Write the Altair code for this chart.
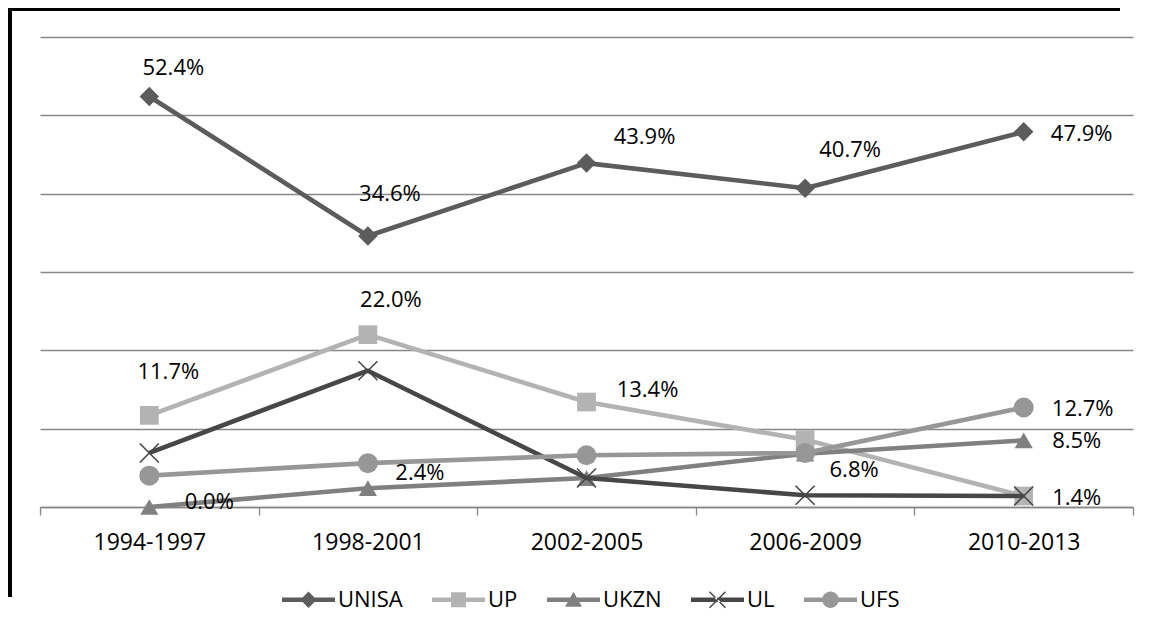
import altair as alt
import pandas as pd

# ---------------- data ----------------
periods = ["1994-1997", "1998-2001", "2002-2005", "2006-2009", "2010-2013"]
series_names = ["UNISA", "UP", "UKZN", "UL", "UFS"]
unisa = [52.4, 34.6, 43.9, 40.7, 47.9]
up = [11.7, 22.0, 13.4, 8.6, 1.4]
ukzn = [0.0, 2.4, 3.7, 6.8, 8.5]
ul = [6.9, 17.4, 3.7, 1.5, 1.4]
ufs = [4.0, 5.6, 6.6, 6.9, 12.7]

label_series = ["UNISA", "UNISA", "UNISA", "UNISA", "UNISA", "UP", "UP", "UP",
                "UKZN", "UKZN", "UKZN", "UFS", "UKZN", "UP"]
label_periods = ["1994-1997", "1998-2001", "2002-2005", "2006-2009", "2010-2013",
                 "1994-1997", "1998-2001", "2002-2005",
                 "1994-1997", "1998-2001", "2006-2009", "2010-2013", "2010-2013", "2010-2013"]
label_texts = ["52.4%", "34.6%", "43.9%", "40.7%", "47.9%", "11.7%", "22.0%", "13.4%",
               "0.0%", "2.4%", "6.8%", "12.7%", "8.5%", "1.4%"]

# ---------------- styling ----------------
label_dx = [24, 22, 58, 45, 58, 19, 23, 61, 60, 52, 49, 59, 53, 53]
label_dy = [-29, -42, -26, -38, 2, -43, -35, -12, -5, -15, 16, 1, 1, 2]
series_colors = ["#5c5c5c", "#b3b3b3", "#808080", "#474747", "#979797"]
marker_shapes = ["diamond", "square", "triangle-up", "M-1,-1L1,1M-1,1L1,-1", "circle"]
marker_sizes = [380, 350, 330, 361, 400]

LINE = "M-1,-0.083H1V0.083H-1Z"
legend_paths = [
    LINE + "M0,-0.31L0.31,0L0,0.31L-0.31,0Z",
    LINE + "M-0.28,-0.28H0.28V0.28H-0.28Z",
    LINE + "M0,-0.3L0.32,0.26L-0.32,0.26Z",
    LINE + "M-0.32,-0.28L0.28,0.32L0.32,0.28L-0.28,-0.32Z"
           "M0.28,-0.32L0.32,-0.28L-0.28,0.32L-0.32,0.28Z",
    LINE + "M0.31,0A0.31,0.31 0 1,1 -0.31,0A0.31,0.31 0 1,1 0.31,0Z",
]

values_by_series = {"UNISA": unisa, "UP": up, "UKZN": ukzn, "UL": ul, "UFS": ufs}
rows = []
for s in series_names:
    for p, v in zip(periods, values_by_series[s]):
        rows.append({"series": s, "period": p, "value": v})
df = pd.DataFrame(rows)

lab_rows = []
for i, (s, p, t) in enumerate(zip(label_series, label_periods, label_texts)):
    v = values_by_series[s][periods.index(p)]
    lab_rows.append({"idx": i, "series": s, "period": p, "value": v, "text": t})
labels_df = pd.DataFrame(lab_rows)

FONT = "Open Sans"
GRID = "#878787"

x_scale = alt.Scale(type="band", domain=periods, paddingInner=0, paddingOuter=0)
y_scale = alt.Scale(domain=[0, 60], nice=False, zero=True)
x_axis = alt.Axis(title=None, labelAngle=0, labelFont=FONT, labelFontSize=23,
                  labelColor="black", domainColor=GRID, domainWidth=1.3,
                  tickColor=GRID, tickWidth=1.3, tickSize=8, tickBand="extent",
                  labelPadding=16, grid=False)
y_axis = alt.Axis(title=None, labels=False, ticks=False, domain=False, grid=True,
                  values=[0, 10, 20, 30, 40, 50, 60], gridColor=GRID, gridWidth=1.3)


def xenc():
    return alt.X("period:N", sort=periods, scale=x_scale, axis=x_axis, bandPosition=0.5)


def yenc():
    return alt.Y("value:Q", scale=y_scale, axis=y_axis)


layers = []

frame_df = pd.DataFrame({"k": [0]})
layers.append(alt.Chart(frame_df).mark_rule(color="black", strokeWidth=4).encode(
    x=alt.value(-30), y=alt.value(-29), y2=alt.value(560)))
layers.append(alt.Chart(frame_df).mark_rule(color="black", strokeWidth=3).encode(
    x=alt.value(-32), x2=alt.value(1080), y=alt.value(-27.5)))

for s, col, shp, sz in zip(series_names, series_colors, marker_shapes, marker_sizes):
    base = alt.Chart(df).transform_filter(alt.datum.series == s)
    layers.append(base.mark_line(color=col, strokeWidth=4.6, strokeJoin="round").encode(
        x=xenc(), y=yenc()))
    if s == "UL":
        pts = base.mark_point(shape=shp, filled=False, color=col, strokeWidth=1.6,
                              size=sz, opacity=1)
    else:
        pts = base.mark_point(shape=shp, filled=True, color=col, strokeWidth=0,
                              size=sz, opacity=1)
    layers.append(pts.encode(x=xenc(), y=yenc()))

for i in range(len(label_texts)):
    layers.append(
        alt.Chart(labels_df).transform_filter(alt.datum.idx == i)
        .mark_text(font=FONT, fontSize=22, color="black", align="center",
                   baseline="middle", dx=label_dx[i], dy=label_dy[i])
        .encode(x=xenc(), y=yenc(), text="text:N")
    )

leg = alt.Legend(title=None, orient="none", legendX=242, legendY=536, direction="horizontal",
                 columns=5, symbolSize=2809, symbolStrokeWidth=0, labelFont=FONT,
                 labelFontSize=22, labelColor="black", columnPadding=29, labelOffset=3,
                 padding=0, symbolOpacity=1)
legend_layer = alt.Chart(pd.DataFrame({"series": series_names})).mark_point(
    filled=True, opacity=1, size=2809, clip=True, strokeWidth=0).encode(
    x=alt.value(0), y=alt.value(-5000),
    color=alt.Color("series:N", scale=alt.Scale(domain=series_names, range=series_colors),
                    legend=leg),
    shape=alt.Shape("series:N", scale=alt.Scale(domain=series_names, range=legend_paths),
                    legend=leg),
)
layers.append(legend_layer)

chart = alt.layer(*layers).properties(
    width=1093, height=470,
    padding={"left": 32, "top": 29, "right": 13, "bottom": 115},
    autosize=alt.AutoSizeParams(type="none"),
).configure_view(strokeWidth=0)

chart.save("out.html", embed_options={"renderer": "svg", "actions": False})
